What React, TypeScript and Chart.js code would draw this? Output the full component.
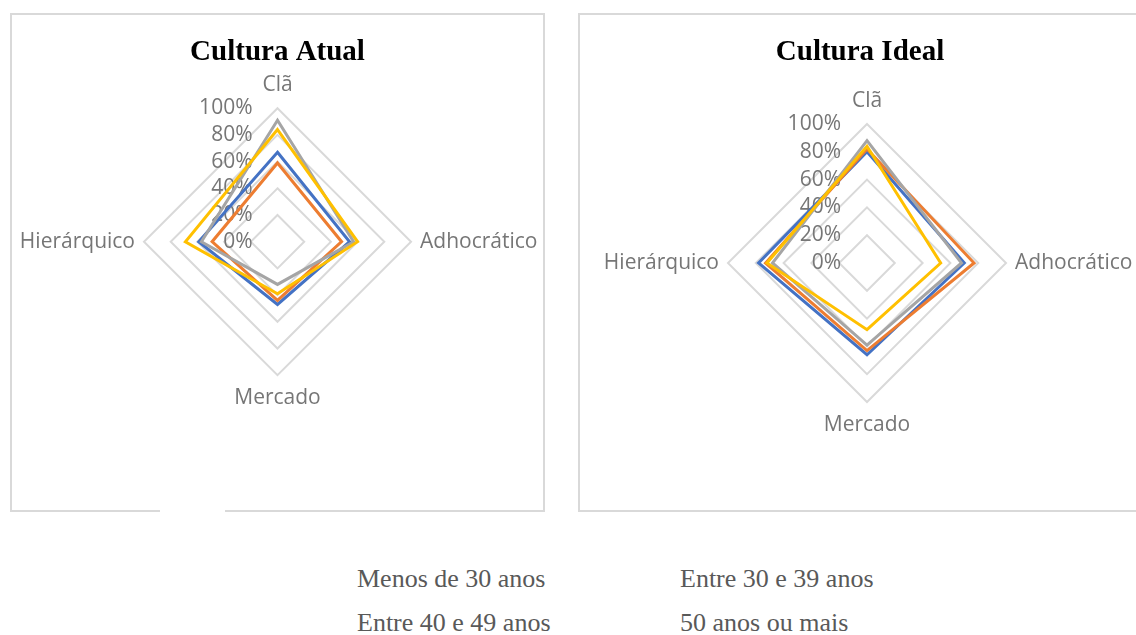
import React, { useEffect, useRef } from 'react';
import { Chart, registerables } from 'chart.js';

Chart.register(...registerables);

// ---- data ----
const categories = ['Clã', 'Adhocrático', 'Mercado', 'Hierárquico'];
const seriesNames = ['Menos de 30 anos', 'Entre 30 e 39 anos', 'Entre 40 e 49 anos', '50 anos ou mais'];
const seriesColors = ['#4472C4', '#ED7D31', '#A5A5A5', '#FFC000'];
const tickValues = [0, 20, 40, 60, 80, 100];

const atualMenos30 = [67, 54, 47, 59];
const atual30a39 = [59, 48, 44, 49];
const atual40a49 = [91, 57, 32, 57];
const atual50mais = [84, 60, 39, 69];

const idealMenos30 = [80, 70, 66, 78];
const ideal30a39 = [82, 77, 63, 73];
const ideal40a49 = [88, 68, 59, 68];
const ideal50mais = [84, 53, 48, 72];

const TEXT_GRAY = '#767676';
const GRID_GRAY = '#D9D9D9';

type PanelProps = {
  title: string;
  series: number[][];
  width: number;
  height: number;
  cx: number;
  cy: number;
  radius: number;
  tickOffset: number;
};

function RadarPanel({ title, series, width, height, cx, cy, radius, tickOffset }: PanelProps) {
  const ref = useRef<HTMLCanvasElement>(null);

  useEffect(() => {
    if (!ref.current) return;

    const labelPlugin = {
      id: 'excelLabels',
      beforeDatasetsDraw(chart: any) {
        const scale = chart.scales.r;
        const ctx = chart.ctx;
        ctx.save();
        ctx.font = '21px "Open Sans"';
        ctx.fillStyle = TEXT_GRAY;
        ctx.textBaseline = 'middle';
        ctx.textAlign = 'right';
        scale.ticks.forEach((t: any) => {
          const d = scale.getDistanceFromCenterForValue(t.value);
          ctx.fillText(t.value + '%', scale.xCenter - tickOffset, scale.yCenter - d);
        });
        (chart.data.labels as string[]).forEach((lab, i) => {
          const p0 = scale.getPointPosition(i, scale.drawingArea);
          const dx = p0.x - scale.xCenter;
          let off = 9;
          let align: CanvasTextAlign = 'center';
          if (Math.abs(dx) < 1) {
            off = 23;
            align = 'center';
          } else {
            align = dx > 0 ? 'left' : 'right';
          }
          const p = scale.getPointPosition(i, scale.drawingArea + off);
          ctx.textAlign = align;
          ctx.fillText(lab, p.x, p.y);
        });
        ctx.restore();
      },
    };

    const chart = new Chart(ref.current, {
      type: 'radar',
      data: {
        labels: categories,
        datasets: series.map((vals, i) => ({
          label: seriesNames[i],
          data: vals,
          borderColor: seriesColors[i],
          backgroundColor: seriesColors[i],
          borderWidth: 3,
          fill: false,
          pointRadius: 0,
          pointHoverRadius: 0,
          order: series.length - i,
        })),
      },
      options: {
        responsive: false,
        animation: false,
        devicePixelRatio: 1,
        layout: { padding: 0 },
        plugins: {
          legend: { display: false },
          tooltip: { enabled: false },
          title: {
            display: true,
            text: title,
            color: '#000000',
            font: { family: '"Liberation Serif"', size: 29, weight: 'bold' },
            padding: { top: 20, bottom: 0 },
          },
        },
        scales: {
          r: {
            min: 0,
            max: 100,
            ticks: { display: false, stepSize: 20 },
            afterBuildTicks: (s: any) => {
              s.ticks = tickValues.map((v) => ({ value: v }));
            },
            pointLabels: { display: false },
            angleLines: { display: false },
            grid: { color: GRID_GRAY, lineWidth: 2 },
            afterFit: (s: any) => {
              s.xCenter = cx;
              s.yCenter = cy;
              s.drawingArea = radius;
            },
          } as any,
        },
      } as any,
      plugins: [labelPlugin],
    });

    return () => chart.destroy();
  }, []);

  return <canvas ref={ref} width={width} height={height} style={{ display: 'block', width, height }} />;
}

export default function App() {
  const legendPos = [
    { left: 357, top: 579 },
    { left: 680, top: 579 },
    { left: 357, top: 623 },
    { left: 680, top: 623 },
  ];
  return (
    <div
      style={{
        position: 'absolute',
        left: 0,
        top: 0,
        width: 1136,
        height: 635,
        overflow: 'hidden',
        background: '#ffffff',
      }}
    >
      <div
        style={{
          position: 'absolute',
          left: 10,
          top: 13,
          width: 535,
          height: 499,
          boxSizing: 'border-box',
          border: `2px solid ${GRID_GRAY}`,
        }}
      >
        <RadarPanel
          title="Cultura Atual"
          series={[atualMenos30, atual30a39, atual40a49, atual50mais]}
          width={531}
          height={495}
          cx={265.5}
          cy={226.7}
          radius={133.5}
          tickOffset={25}
        />
      </div>
      <div style={{ position: 'absolute', left: 160, top: 508, width: 65, height: 6, background: '#ffffff' }} />
      <div
        style={{
          position: 'absolute',
          left: 578,
          top: 13,
          width: 564,
          height: 499,
          boxSizing: 'border-box',
          border: `2px solid ${GRID_GRAY}`,
        }}
      >
        <RadarPanel
          title="Cultura Ideal"
          series={[idealMenos30, ideal30a39, ideal40a49, ideal50mais]}
          width={560}
          height={495}
          cx={287}
          cy={248}
          radius={139}
          tickOffset={26}
        />
      </div>
      {seriesNames.map((name, i) => (
        <div
          key={name}
          style={{
            position: 'absolute',
            left: legendPos[i].left,
            top: legendPos[i].top - 15,
            height: 30,
            lineHeight: '30px',
            fontFamily: '"Liberation Serif", serif',
            fontSize: 26,
            color: '#595959',
            whiteSpace: 'nowrap',
          }}
        >
          {name}
        </div>
      ))}
    </div>
  );
}
